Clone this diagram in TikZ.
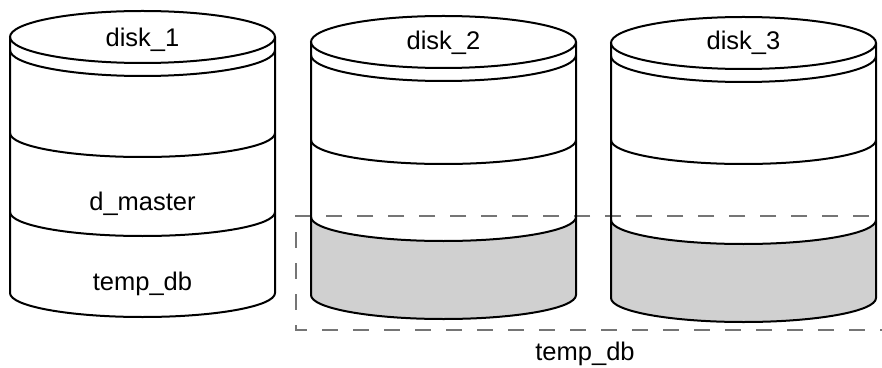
\documentclass[tikz,border=0pt]{standalone}
\usepackage{fontspec}
\setmainfont{Liberation Sans}
\definecolor{bandgray}{HTML}{D0D0D0}
\definecolor{dashgray}{HTML}{757575}
\tikzset{
  cylline/.style={line width=2pt, black},
  lbl/.style={font=\fontsize{25.5}{30}\selectfont, inner sep=0pt, anchor=base},
  tempbox/.style={draw=dashgray, line width=2.6pt, dash pattern=on 16pt off 15pt}
}
% #1 left x, #2 top ellipse centre (px from top), #3 first band, #4 second band, #5 bottom, #6 lowest band fill
\newcommand\cylshape[6]{%
  \pgfmathsetmacro\cR{#1+265}%
  \pgfmathsetmacro\cM{#1+132.5}%
  \pgfmathsetmacro\yT{367-#2}%
  \pgfmathsetmacro\yS{367-#2-13}%
  \pgfmathsetmacro\yA{367-#3}%
  \pgfmathsetmacro\yB{367-#4}%
  \pgfmathsetmacro\yE{367-#5}%
  \fill[#6] (#1,\yB) arc[start angle=180,end angle=360,x radius=132.5,y radius=24] -- (\cR,\yE)
     arc[start angle=0,end angle=-180,x radius=132.5,y radius=24] -- cycle;
  \draw[cylline] (#1,\yT) -- (#1,\yE) arc[start angle=180,end angle=360,x radius=132.5,y radius=24] -- (\cR,\yT);
  \draw[cylline] (\cM,\yT) ellipse[x radius=132.5,y radius=26];
  \draw[cylline] (#1,\yS) arc[start angle=180,end angle=360,x radius=132.5,y radius=26];
  \draw[cylline] (#1,\yA) arc[start angle=180,end angle=360,x radius=132.5,y radius=24];
  \draw[cylline] (#1,\yB) arc[start angle=180,end angle=360,x radius=132.5,y radius=24];
}
\begin{document}
\begin{tikzpicture}[x=1pt,y=1pt]
  \useasboundingbox (0,0) rectangle (882,367);
  \fill[white] (0,0) rectangle (882,367);
  % dashed temp_db region
  \draw[tempbox] (900,{367-216}) -- (296,{367-216}) -- (296,{367-330}) -- (900,{367-330});
  % cylinders
  \cylshape{10}{37}{133}{212}{293}{white}
  \cylshape{311}{42}{140}{217}{295}{bandgray}
  \cylshape{611}{43}{140}{220}{298}{bandgray}
  % labels
  \node[lbl] (d1) at (142.5,{367-47}) {disk\_1};
  \node[lbl] (d2) at (443.5,{367-50}) {disk\_2};
  \node[lbl] (d3) at (743.5,{367-50}) {disk\_3};
  \node[lbl] (dm) at (142.5,{367-210}) {d\_master};
  \node[lbl] (t1) at (142.5,{367-290}) {temp\_db};
  \node[lbl] (t2) at (585,{367-360}) {temp\_db};
\end{tikzpicture}
\end{document}
